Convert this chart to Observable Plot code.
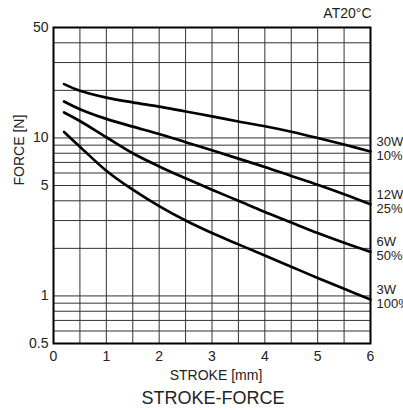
<!DOCTYPE html>
<html>
<head>
<meta charset="utf-8">
<script src="https://cdn.jsdelivr.net/npm/d3@7"></script>
<script src="https://cdn.jsdelivr.net/npm/@observablehq/plot@0.6"></script>
<style>
  html, body { margin: 0; padding: 0; background: #fff; }
  #chart { width: 403px; height: 410px; overflow: hidden; }
</style>
</head>
<body>
<div id="chart"></div>
<script>
// Stroke positions (mm)
const stroke = [0.2, 0.5, 1, 1.5, 2, 2.5, 3, 3.5, 4, 4.5, 5, 5.5, 6];
// Force (N) for each rating
const f30W = [21.9, 19.9, 18.0, 16.8, 15.8, 14.7, 13.7, 12.7, 11.85, 10.95, 10.0, 9.08, 8.2];
const f12W = [17.0, 15.2, 13.2, 11.8, 10.6, 9.4, 8.35, 7.4, 6.55, 5.75, 5.05, 4.4, 3.8];
const f6W  = [14.5, 12.8, 10.1, 8.0, 6.6, 5.55, 4.7, 4.0, 3.4, 2.92, 2.5, 2.17, 1.9];
const f3W  = [10.9, 8.8, 6.2, 4.7, 3.7, 3.0, 2.5, 2.12, 1.8, 1.53, 1.3, 1.11, 0.95];

const seriesNames = ["30W", "12W", "6W", "3W"];
const seriesLabels = ["30W\n10%", "12W\n25%", "6W\n50%", "3W\n100%"];
const seriesValues = [f30W, f12W, f6W, f3W];

const xTicks = [0, 1, 2, 3, 4, 5, 6];
const yTicks = [0.5, 1, 5, 10, 50];
const xGrid = [0, 0.5, 1, 1.5, 2, 2.5, 3, 3.5, 4, 4.5, 5, 5.5, 6];
const yGrid = [0.5, 0.6, 0.7, 0.8, 0.9, 1, 2, 3, 4, 5, 6, 7, 8, 9, 10, 20, 30, 40, 50];

const title = "AT20°C";
const xLabel = "STROKE [mm]";
const yLabel = "FORCE [N]";
const caption = "STROKE-FORCE";

const rows = seriesNames.flatMap((name, i) =>
  stroke.map((s, j) => ({series: name, stroke: s, force: seriesValues[i][j]})));
const ends = seriesNames.map((name, i) => ({
  series: name,
  label: seriesLabels[i],
  stroke: stroke[stroke.length - 1],
  force: seriesValues[i][seriesValues[i].length - 1]
}));

const font = "'Liberation Sans', Arial, Helvetica, sans-serif";

const chart = Plot.plot({
  width: 403,
  height: 410,
  marginTop: 27,
  marginLeft: 53,
  marginRight: 33,
  marginBottom: 67,
  style: {fontFamily: font, fontSize: "14px", color: "#222", background: "#fff", overflow: "visible"},
  x: {domain: [0, 6], label: null},
  y: {type: "log", domain: [0.5, 50], label: null},
  marks: [
    Plot.ruleX(xGrid, {stroke: "#333", strokeWidth: 1}),
    Plot.ruleY(yGrid, {stroke: "#333", strokeWidth: 1}),
    Plot.line(rows, {x: "stroke", y: "force", z: "series", stroke: "#000", strokeWidth: 2.7, curve: "catmull-rom"}),
    Plot.frame({stroke: "#000", strokeWidth: 2}),
    Plot.axisX({ticks: xTicks, tickSize: 0, tickPadding: 8, fontSize: 14, label: null, tickFormat: d => String(d)}),
    Plot.axisY({ticks: yTicks, tickSize: 0, tickPadding: 5, fontSize: 14, label: null, tickFormat: d => String(d)}),
    Plot.text(ends, {x: "stroke", y: "force", text: "label", dx: 6, dy: -3, textAnchor: "start", lineAnchor: "middle", fontSize: 13, lineHeight: 1.05, fill: "#222"}),
    Plot.text([title], {frameAnchor: "top-right", dy: -14, dx: 1, textAnchor: "end", lineAnchor: "middle", fontSize: 14, fill: "#222"}),
    Plot.text([xLabel], {frameAnchor: "bottom", dy: 32, dx: 4, lineAnchor: "middle", fontSize: 14, fill: "#222"}),
    Plot.text([caption], {frameAnchor: "bottom", dy: 55, dx: 1, lineAnchor: "middle", fontSize: 18, fill: "#222"}),
    Plot.text([yLabel], {frameAnchor: "left", dx: -34, rotate: -90, lineAnchor: "middle", fontSize: 14, fill: "#222"})
  ]
});
document.getElementById("chart").append(chart);
</script>
</body>
</html>
